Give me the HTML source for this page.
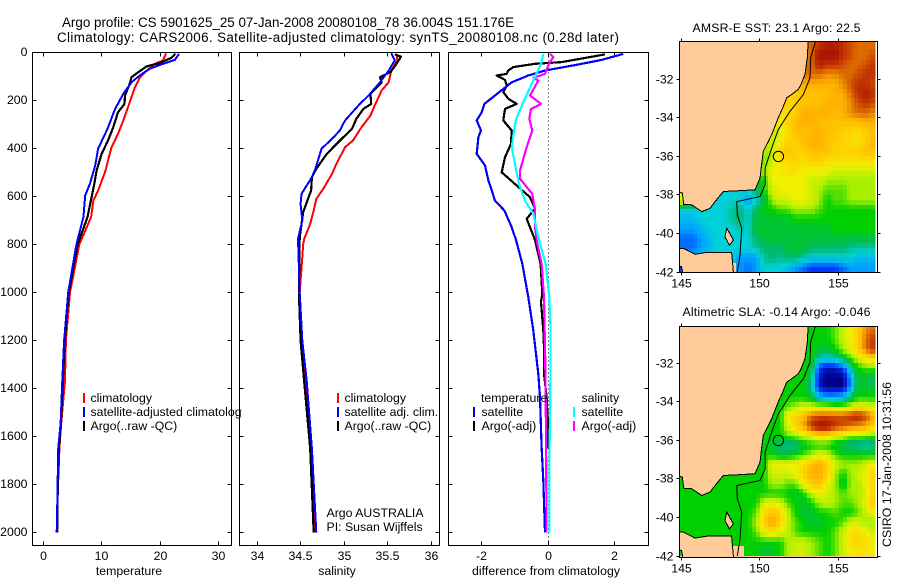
<!DOCTYPE html>
<html>
<head>
<meta charset="utf-8">
<title>Argo profile</title>
<style>
html,body{margin:0;padding:0;background:#fff;}
svg{display:block;}
text{font-family:"Liberation Sans",sans-serif;font-size:12.3px;fill:#000;}
</style>
</head>
<body>
<svg id="fig" width="900" height="580" viewBox="0 0 900 580" xmlns="http://www.w3.org/2000/svg">
<defs>
<clipPath id="legend-clip"><rect x="85" y="385" width="157" height="60"/></clipPath>
<clipPath id="map1-clip"><rect x="680" y="42" width="195.5" height="230.5"/></clipPath>
<clipPath id="map2-clip"><rect x="680" y="327" width="195.5" height="230"/></clipPath>
</defs>
<rect width="900" height="580" fill="#fff"/>

<text x="62" y="27" textLength="452" lengthAdjust="spacing" style="font-size:13.4px">Argo profile: CS 5901625_25 07-Jan-2008 20080108_78 36.004S 151.176E</text>
<text x="57" y="42" textLength="562" lengthAdjust="spacing" style="font-size:13.4px">Climatology: CARS2006. Satellite-adjusted climatology: synTS_20080108.nc (0.28d later)</text>

<g id="panels"></g>
<g id="maps"></g>

<text x="129" y="575" text-anchor="middle">temperature</text>
<text x="337" y="575" text-anchor="middle">salinity</text>
<text x="546" y="575" text-anchor="middle" textLength="148" lengthAdjust="spacing">difference from climatology</text>

<g>
<rect x="83" y="393" width="2" height="10" fill="#ff0000"/>
<rect x="83" y="407" width="2" height="10" fill="#0000ff"/>
<rect x="83" y="421" width="2" height="10" fill="#000"/>
<g clip-path="url(#legend-clip)">
<text x="90.5" y="402">climatology</text>
<text x="90.5" y="416">satellite-adjusted climatology</text>
<text x="90.5" y="430">Argo(..raw -QC)</text>
</g>
</g>

<g>
<rect x="337" y="393" width="2" height="10" fill="#ff0000"/>
<rect x="337" y="407" width="2" height="10" fill="#0000ff"/>
<rect x="337" y="421" width="2" height="10" fill="#000"/>
<text x="344.5" y="402">climatology</text>
<text x="344.5" y="416">satellite adj. clim.</text>
<text x="344.5" y="430">Argo(..raw -QC)</text>
<text x="326.5" y="517">Argo AUSTRALIA</text>
<text x="326.5" y="531">PI: Susan Wijffels</text>
</g>

<g>
<text x="481" y="402">temperature</text>
<rect x="473" y="407" width="2" height="10" fill="#0000ff"/>
<text x="481.5" y="416">satellite</text>
<rect x="473" y="421" width="2" height="10" fill="#000"/>
<text x="481.5" y="430">Argo(-adj)</text>
<text x="581.5" y="402">salinity</text>
<rect x="573" y="407" width="2" height="10" fill="#00ffff"/>
<text x="581.5" y="416">satellite</text>
<rect x="573" y="421" width="2" height="10" fill="#ff00ff"/>
<text x="581.5" y="430">Argo(-adj)</text>
</g>

<text x="692.5" y="32" textLength="168" lengthAdjust="spacing">AMSR-E SST: 23.1 Argo: 22.5</text>
<text x="682.5" y="316" textLength="188" lengthAdjust="spacing">Altimetric SLA: -0.14 Argo: -0.046</text>
<text transform="translate(891,547) rotate(-90)" textLength="165" lengthAdjust="spacing">CSIRO 17-Jan-2008 10:31:56</text>
</svg>

<script>
// ---- axis tick values ----
const depthTicks = [0,200,400,600,800,1000,1200,1400,1600,1800,2000];
const tempTicks = [0,10,20,30];
const salTicks = [34,34.5,35,35.5,36];
const salTickLabels = ['34','34.5','35','35.5','36'];
const diffTicks = [-2,0,2];

// ---- temperature panel ----
const tempClimDepth = [3,33,47,82,105,144,186,228,283,339,394,450,498,575,617,686,800,1000,1200,1367,1546,1650,1854,2000];
const tempClimValue = [21,20.5,19.1,17.4,16.5,15.7,15.1,14.5,13.7,12.8,11.7,11.1,10.6,9.4,8.6,8.2,6.2,4.6,3.9,3.75,3.1,2.8,2.5,2.5];
const tempArgoDepth = [6,22,44,58,82,103,131,179,214,249,311,367,422,492,547,603,686,800,1000,1200,1367,1546,1650,1854,2000];
const tempArgoValue = [22.6,21.9,19.9,17.7,16.25,15.1,14.8,14,13.9,12.8,12,11.1,10,9.15,8.75,8.3,7.6,5.9,4.4,3.7,3.4,3.05,2.7,2.5,2.4];
const tempSatDepth = [6,31,47,68,96,124,172,235,318,401,471,547,596,686,800,1000,1200,1367,1546,1650,1854,2000];
const tempSatValue = [23.2,22.5,20.5,18.2,16.5,15.1,13.7,12.3,11,9.4,8.9,8,7.2,6.9,5.7,4.3,3.6,3.3,3,2.6,2.45,2.33];

// ---- salinity panel ----
const salClimDepth = [6,33,75,124,158,221,263,311,367,394,464,506,568,610,658,714,778,800,1000,1200,1367,1650,2000];
const salClimValue = [35.6,35.61,35.54,35.51,35.43,35.35,35.3,35.2,35.1,35.01,34.91,34.86,34.76,34.68,34.65,34.61,34.54,34.53,34.49,34.51,34.55,34.62,34.67];
const salArgoDepth = [8,17,47,82,103,124,172,214,235,276,318,360,422,485,519,575,665,769,1000,1200,1367,1650,2000];
const salArgoValue = [35.58,35.65,35.6,35.53,35.41,35.43,35.3,35.31,35.22,35.14,35.09,34.97,34.8,34.68,34.63,34.62,34.53,34.49,34.48,34.5,34.54,34.61,34.65];
const salSatDepth = [3,33,75,124,179,214,283,325,360,401,485,519,589,631,700,776,1000,1200,1367,1650,2000];
const salSatValue = [35.54,35.58,35.51,35.41,35.28,35.18,35.01,34.95,34.86,34.74,34.67,34.63,34.51,34.5,34.52,34.47,34.49,34.52,34.57,34.63,34.68];

// ---- difference panel ----
const diffTempSatDepth = [6,31,50,75,96,124,179,214,249,283,325,353,422,471,533,617,658,728,781,880,1019,1158,1339,1436,1644,1783,2000];
const diffTempSatValue = [2.25,1.6,0.9,-0.1,-0.6,-1.1,-1.6,-1.92,-2,-2.15,-2.02,-2.1,-2.15,-1.9,-1.8,-1.6,-1.32,-1.1,-0.97,-0.78,-0.6,-0.45,-0.3,-0.25,-0.2,-0.15,-0.1];
const diffTempArgoDepth = [8,40,47,61,75,89,96,114,138,165,193,214,235,283,325,381,436,499,554,603,651,693,781,811,880,1005,1040,1158,1255,1339,1436,1575,1650];
const diffTempArgoValue = [1.7,0.4,-0.4,-1.05,-1.2,-1.25,-1.55,-1.3,-1.25,-1.35,-1.2,-0.95,-1.3,-1.35,-1.1,-1.12,-1.3,-1.4,-0.95,-0.55,-0.4,-0.65,-0.4,-0.35,-0.23,-0.18,-0.22,-0.15,-0.12,-0.13,-0.05,0,0];
const diffSalSatDepth = [6,47,117,207,283,346,394,464,547,617,672,769,880,1019,1158,1436,1644,2000];
const diffSalSatValue = [-0.15,-0.22,-0.45,-0.75,-0.98,-1.05,-1.1,-1,-0.88,-0.7,-0.45,-0.3,-0.08,0.03,0.07,0.06,0.04,0.04];
const diffSalArgoDepth = [6,19,47,89,105,117,179,214,235,276,325,394,492,526,589,658,728,781,880,1019,1297,1575,2000];
const diffSalArgoValue = [0.05,0.15,0.02,-0.1,-0.45,-0.3,-0.55,-0.22,-0.52,-0.57,-0.48,-0.65,-0.85,-0.85,-0.48,-0.4,-0.4,-0.35,-0.2,-0.13,-0.09,-0.07,-0.05];

// ---- map axes ----
const lonTicks = [145,150,155];
const latTicks = [-32,-34,-36,-38,-40,-42];
const floatLon = 151.176;
const floatLat = -36.004;

// ---- map cell values: colour index 0-12, -1 = land. rows from 30S in 0.5 deg, cols from 145E in 0.5 deg ----
const sstCells = [
[-1,-1,-1,-1,-1,-1,-1,-1,-1,-1,-1,-1,-1,-1,-1,10,10,11,11.5,11.5,11,10.5,10,10,10],
[-1,-1,-1,-1,-1,-1,-1,-1,-1,-1,-1,-1,-1,-1,-1,10,10,12,12,12,11,10.5,10,10,10.5],
[-1,-1,-1,-1,-1,-1,-1,-1,-1,-1,-1,-1,-1,-1,-1,10,10,11.5,11,11,10.5,10,10,10.5,11],
[-1,-1,-1,-1,-1,-1,-1,-1,-1,-1,-1,-1,-1,-1,10,10,10,10,9.5,9.5,10,10,10.5,11,11],
[-1,-1,-1,-1,-1,-1,-1,-1,-1,-1,-1,-1,-1,-1,9,9,9,9,9,9,9.5,10.5,11,11,10.5],
[-1,-1,-1,-1,-1,-1,-1,-1,-1,-1,-1,-1,-1,8,8,8.5,8.5,8.5,8.5,9,9,10,11,11.5,11],
[-1,-1,-1,-1,-1,-1,-1,-1,-1,-1,-1,-1,8,8,8,8.5,8.5,8.5,9,9,9,9.5,10.5,11,10.5],
[-1,-1,-1,-1,-1,-1,-1,-1,-1,-1,-1,7.5,7.5,7.5,8,9,9,9,9,8.5,9,9.5,10,10,9.5],
[-1,-1,-1,-1,-1,-1,-1,-1,-1,-1,-1,7,7,8,8.5,9,9,8.5,8.5,8.5,8.5,8.5,8.5,9,9],
[-1,-1,-1,-1,-1,-1,-1,-1,-1,-1,6.5,6.5,6.5,7.5,8.5,8.5,8.5,9,8.5,8.5,8,8,7.5,8,8.5],
[-1,-1,-1,-1,-1,-1,-1,-1,-1,-1,6.5,6.5,7,8,8,8.5,9,9,8.5,8,8,7.5,7.5,8,9],
[-1,-1,-1,-1,-1,-1,-1,-1,-1,6,6,6,8,8.5,8,8,8.5,8.5,8.5,8,8,8,8,8.5,8.5],
[-1,-1,-1,-1,-1,-1,-1,-1,-1,5.5,5.5,6.5,7.5,7.5,8,7.5,8,8,7.5,7.5,7.5,7.5,7.5,7.5,7.5],
[-1,-1,-1,-1,-1,-1,-1,-1,-1,6,6,7,7,7.5,7.5,7,7,7,7,6.5,6.5,6.5,6.5,6.5,6.5],
[-1,-1,-1,-1,-1,-1,-1,-1,-1,5,5,7,7,7,7,7,6.5,6.5,6,6,6,6,6,6,6],
[7,7,-1,-1,-1,3,3,3,3,4,5,6.5,7,7,7,7,6.5,6,5.5,5.5,5.5,6,6,6,6],
[7,7,3,3,3,3,3,3,2,3,4,6,6.5,6.5,7,7,6.5,6,5,5.5,5.5,6,6,6,6],
[3,3,3,3,3,3,3.5,4,3,4,5,5,5.5,5.5,6,6,6,5.5,5,5,5,5,5,5,5],
[2.5,2.5,3,3,3,3,3.5,4,3,4.5,4.5,4.5,4.5,4.5,5,5,5,5,5,5,5,5,5,5,5],
[2,2,2.5,3,3,3,3,3.5,3,4.5,4.5,4.5,4.5,4.5,4.5,4.5,4.5,4.5,4.5,5,5,5,5,5,5],
[1.5,1.5,2,2.5,3,3,3,3,3,4,4.5,4.5,4.5,4.5,4.5,4.5,4.5,4.5,4.5,4.5,4.5,4.5,4.5,4.5,4.5],
[1.5,1.5,2,2.5,3,3,3,3,3,3.5,4,4,4,4.5,4.5,4.5,4,4,4,4,4,3.5,3.5,3.5,3.5],
[1.5,2.5,3,3,3,3,3,2,2,2,3.5,4,3.5,4,4,3.5,3,3,3,3,3,3,2.5,2.5,2.5],
[1,1,-1,-1,-1,-1,-1,2,1.5,2,3,3,3,2.5,2,1.5,1,1,1,1,1.5,2,2,2,2]
];
const slaCells = [
[-1,-1,-1,-1,-1,-1,-1,-1,-1,-1,-1,-1,-1,-1,-1,5,5,5,5,5.5,6.5,7,8,9.5,10],
[-1,-1,-1,-1,-1,-1,-1,-1,-1,-1,-1,-1,-1,-1,-1,5,5,5,5,5.5,6.5,7,8,10,11],
[-1,-1,-1,-1,-1,-1,-1,-1,-1,-1,-1,-1,-1,-1,-1,5,5,4.5,4.5,5,6,7,8,10,11],
[-1,-1,-1,-1,-1,-1,-1,-1,-1,-1,-1,-1,-1,-1,5,5,5,3.5,3,3.5,4.5,5.5,6.5,7.5,8],
[-1,-1,-1,-1,-1,-1,-1,-1,-1,-1,-1,-1,-1,-1,5,5,4.5,1,0.3,0.5,1,3.5,5,5.5,5.5],
[-1,-1,-1,-1,-1,-1,-1,-1,-1,-1,-1,-1,-1,5,5,5,4,0.5,0,0,0,2,4.5,4.5,4],
[-1,-1,-1,-1,-1,-1,-1,-1,-1,-1,-1,-1,5,5,5,5,3.5,0.5,0,0,0,2,4.5,4.5,4.5],
[-1,-1,-1,-1,-1,-1,-1,-1,-1,-1,-1,5,5,5,5,5,4.5,2.5,2,2,2.5,4,5,5,5],
[-1,-1,-1,-1,-1,-1,-1,-1,-1,-1,-1,5,5,5.5,6,6.5,6.5,6.5,6.5,6,6,6.5,7,7,6.5],
[-1,-1,-1,-1,-1,-1,-1,-1,-1,-1,5,5,5,7,8,8.5,10,10.5,10.5,10.5,10.5,11,11.5,10.5,9],
[-1,-1,-1,-1,-1,-1,-1,-1,-1,-1,5,5,5,6.5,8,9,11,12,12,11,10.5,10,9.5,9,8],
[-1,-1,-1,-1,-1,-1,-1,-1,-1,5,5,5,5,5.5,6,6.5,7,8,8,7,6.5,6,6,6,5.5],
[-1,-1,-1,-1,-1,-1,-1,-1,-1,5,5,4.5,4,3.5,3.5,4.5,5,5,5,4.5,4,3.5,3.5,3,3.5],
[-1,-1,-1,-1,-1,-1,-1,-1,-1,5,5,5,4.5,4.5,5,5.5,6,7,6.5,5.5,5,5,5,5,5],
[-1,-1,-1,-1,-1,-1,-1,-1,-1,5,5,7,7,7,7,7.5,8.5,9,8,6.5,6,6,6,6.5,7],
[5,5,-1,-1,-1,5,5,5,5,5,5,6.5,6.5,6.5,7,8,9,9,8,6,5,6,6.5,7,8],
[5,5,5,5,5,5,5,5,5,5,5,6,6,5.5,5.5,7,8,8.5,7,6,4.5,6,6,7,8],
[5,5,5,5,5,5,5,5,5,5,5,5,5,5,4.5,5,6.5,7,6.5,6,5.5,6,6,6.5,8],
[5,5,5,5,5,5,5,5,5,5,6.5,7,6.5,5.5,5,4.5,5,6,6.5,6,5.5,5.5,6,7,8.5],
[5,5,5,5,5,5,5,5,5,5.5,7.5,8.5,8,6.5,5,4.5,4.5,5,5,5.5,5,5,5.5,6.5,7],
[5,5,5,5,5,5,5,5,5,6,8,9.5,8,6.5,5.5,5,4.5,4.5,5,5,5.5,6.5,6.5,6,6],
[5,5,5,5,5,5,5,5,5,5.5,7,7.5,7,6.5,5.5,5,5,5,5,5.5,6.5,7.5,7.5,7,6.5],
[5,5,5,5,5,5,5,5,5,5,5,5,5,6,6.5,6.5,6,5.5,5,5.5,6.5,7.5,8,7.5,7],
[5,5,-1,-1,-1,-1,-1,-1,5,5,4.5,4.5,5,6,6.5,6.5,6,5.5,5,5.5,6.5,7,7.5,7.5,7]
];

// ---- coast and bathymetry in lon/lat ----
const mainlandLon = [144.5,153.1,153.01,152.86,152.6,152.44,152.1,151.7,151.45,151.17,150.75,150.5,150.22,150.1,150.01,149.69,148.7,147.68,147.2,146.84,146.31,145.68,145.15,145.15,145.08,144.5];
const mainlandLat = [-29.5,-29.5,-30.9,-31.76,-32.3,-32.54,-32.75,-32.98,-33.5,-34,-34.88,-35.3,-35.74,-36.5,-37.13,-37.73,-37.78,-37.82,-38.3,-38.69,-38.86,-38.51,-38.48,-38.34,-37.9,-37.82];
const tasmaniaLon = [144.5,145.15,145.89,146.63,148.21,148.32,148.32,145.32,145.04,144.5];
const tasmaniaLat = [-40.76,-40.76,-41.07,-40.97,-40.97,-42,-43,-43,-41.71,-41.66];
const flindersLon = [147.9,148.32,148.07,147.79];
const flindersLat = [-39.72,-40.33,-40.6,-40.16];
const isobathLon = [153.54,153.22,153.18,152.76,151.91,151.17,150.75,150.33,150.33,150.01,148.53,148.57,148.85,148.74,148.57];
const isobathLat = [-30.03,-30.9,-31.94,-32.8,-33.67,-34.62,-35.57,-36.61,-37.47,-38.08,-38.34,-39.03,-39.72,-41.11,-42];

// ---- colour scale ----
const colourStops = ['#000088','#0038ff','#00a0ff','#00d0d8','#00b868','#00d000','#a8f000','#f0f000','#ffd000','#ffb000','#dc6c00','#c03000','#a81000'];

const NS = 'http://www.w3.org/2000/svg';
function make(parent, tag, attrs, text) {
  const n = document.createElementNS(NS, tag);
  for (const k in attrs) n.setAttribute(k, attrs[k]);
  if (text !== undefined) n.textContent = text;
  parent.appendChild(n);
  return n;
}
function hex(c) { return [1,3,5].map(i => parseInt(c.substr(i,2),16)); }
function colourFor(v) {
  const lo = Math.max(0, Math.min(colourStops.length-1, Math.floor(v)));
  const hi = Math.min(colourStops.length-1, lo+1);
  const f = v-lo, a = hex(colourStops[lo]), b = hex(colourStops[hi]);
  return 'rgb(' + a.map((x,i)=>Math.round(x+(b[i]-x)*f)).join(',') + ')';
}

const depthY = d => 52.5 + 0.24*d;
const tempX = v => 43 + 5.86*v;
const salX = v => 257 + 87.2*(v-34);
const diffX = v => 548.3 + 33.3*v;

function panel(name, left, right, xFn, ticks, labels, showDepth) {
  const g = make(document.getElementById('panels'), 'g', {});
  
  
  const top = 52.5, bottom = 545.5;
  depthTicks.forEach(d => {
    const y = Math.round(depthY(d)-0.5)+0.5;
    if (d > 0) {
      const t1 = make(g, 'path', {d:`M${left} ${y}h4M${right} ${y}h-4`, stroke:'#000', 'stroke-width':1, fill:'none'});
      
      
    }
    if (showDepth) {
      const lab = make(g, 'text', {x:27.5, y:y+3.5, 'text-anchor':'end'}, String(d));
      
      
    }
  });
  ticks.forEach((v,i) => {
    const x = Math.round(xFn(v)-0.5)+0.5;
    const t2 = make(g, 'path', {d:`M${x} ${top}v4M${x} ${bottom}v-4`, stroke:'#000', 'stroke-width':1, fill:'none'});
    
    
    const lab = make(g, 'text', {x:x, y:560, 'text-anchor':'middle'}, labels[i]);
    
    
  });
  return {g, top, bottom, left, right};
}
function finishPanel(p, name) {
  const box = make(p.g, 'rect', {x:p.left, y:p.top, width:p.right-p.left, height:p.bottom-p.top, fill:'none', stroke:'#000', 'stroke-width':1});
  
  
}
function series(p, name, depths, values, xFn, colour, width) {
  const pts = depths.map((d,i) => xFn(values[i]).toFixed(1) + ',' + depthY(d).toFixed(1)).join(' ');
  const line = make(p.g, 'polyline', {points:pts, fill:'none', stroke:colour, 'stroke-width':width||2, 'shape-rendering':'crispEdges', 'stroke-linejoin':'round'});
  
  
}

const p1 = panel('temperature', 32.5, 231.5, tempX, tempTicks, tempTicks.map(String), true);
series(p1, 'temperature-climatology-line', tempClimDepth, tempClimValue, tempX, '#ff0000');
series(p1, 'temperature-argo-line', tempArgoDepth, tempArgoValue, tempX, '#000000', 2.2);
series(p1, 'temperature-satellite-line', tempSatDepth, tempSatValue, tempX, '#0000ff');
finishPanel(p1, 'temperature');

const p2 = panel('salinity', 239.5, 439.5, salX, salTicks, salTickLabels, false);
series(p2, 'salinity-climatology-line', salClimDepth, salClimValue, salX, '#ff0000');
series(p2, 'salinity-argo-line', salArgoDepth, salArgoValue, salX, '#000000', 2.2);
series(p2, 'salinity-satellite-line', salSatDepth, salSatValue, salX, '#0000ff');
finishPanel(p2, 'salinity');

const p3 = panel('difference', 448.5, 648.5, diffX, diffTicks, diffTicks.map(String), false);
const zeroX = Math.round(diffX(0)-0.5)+0.5;
const zeroLine = make(p3.g, 'line', {x1:zeroX, x2:zeroX, y1:depthY(0), y2:p3.bottom, stroke:'#000', 'stroke-width':1, 'stroke-dasharray':'1 3'});


series(p3, 'difference-temp-argo-line', diffTempArgoDepth, diffTempArgoValue, diffX, '#000000', 2.2);
series(p3, 'difference-temp-satellite-line', diffTempSatDepth, diffTempSatValue, diffX, '#0000ff', 2.2);
series(p3, 'difference-sal-argo-line', diffSalArgoDepth, diffSalArgoValue, diffX, '#ff00ff', 2.2);
series(p3, 'difference-sal-satellite-line', diffSalSatDepth, diffSalSatValue, diffX, '#00ffff', 2.2);
finishPanel(p3, 'difference');

// ---- maps ----
const lonX = lon => 681 + 15.77*(lon-145);
// value at fractional cell position, treating land neighbours as the cell's own value
function sampleCell(cells, r, c, own) {
  const rr = Math.max(0, Math.min(cells.length-1, r));
  const cc = Math.max(0, Math.min(cells[0].length-1, c));
  const v = cells[rr][cc];
  return v < 0 ? own : v;
}
function map(name, cells, clipId, boxTop, boxBottom, lat32Y, latScale) {
  const left = 679.5, right = 877.5;
  const latY = lat => lat32Y + (-32-lat)*latScale;
  const g = make(document.getElementById('maps'), 'g', {});
  
  
  const clip = make(g, 'g', {'clip-path':'url(#'+clipId+')'});
  
  
  const bg = make(clip, 'rect', {x:left, y:boxTop, width:right-left, height:boxBottom-boxTop, fill:'#ffcc99'});
  
  
  const cg = make(clip, 'g', {'shape-rendering':'crispEdges'});
  
  
  // each reading is painted as four quarter-degree blocks, shaded toward its neighbours
  cells.forEach((row,r) => row.forEach((v,c) => {
    if (v < 0) return;
    [[-1,-1],[1,-1],[-1,1],[1,1]].forEach(([sx,sy]) => {
      const nx = sampleCell(cells, r, c+sx, v);
      const ny = sampleCell(cells, r+sy, c, v);
      const nd = sampleCell(cells, r+sy, c+sx, v);
      const shade = 0.5625*v + 0.1875*nx + 0.1875*ny + 0.0625*nd;
      const lonA = 145 + 0.5*c + (sx < 0 ? 0 : 0.25);
      const latA = -30 - 0.5*r - (sy < 0 ? 0 : 0.25);
      let x0 = Math.round(lonX(lonA));
      if (c === 0 && sx < 0) x0 = 679;
      const x1 = Math.round(lonX(lonA+0.25));
      const y0 = Math.round(latY(latA));
      const y1 = Math.round(latY(latA-0.25));
      const cell = make(cg, 'rect', {x:x0, y:y0, width:x1-x0, height:y1-y0, fill:colourFor(shade)});
      
      
    });
  }));
  function land(lons, lats, landName) {
    const pts = lons.map((l,i) => lonX(l).toFixed(1)+','+latY(lats[i]).toFixed(1)).join(' ');
    const poly = make(clip, 'polygon', {points:pts, fill:'#ffcc99', stroke:'#000', 'stroke-width':1, 'shape-rendering':'crispEdges'});
    
    
  }
  land(mainlandLon, mainlandLat, 'mainland-australia');
  land(tasmaniaLon, tasmaniaLat, 'tasmania');
  land(flindersLon, flindersLat, 'flinders-island');
  const iso = make(clip, 'polyline', {points:isobathLon.map((l,i)=>lonX(l).toFixed(1)+','+latY(isobathLat[i]).toFixed(1)).join(' '), fill:'none', stroke:'#000', 'stroke-width':1});
  
  
  const circ = make(clip, 'circle', {cx:lonX(floatLon).toFixed(1), cy:latY(floatLat).toFixed(1), r:5.2, fill:'none', stroke:'#000', 'stroke-width':1});
  
  
  const box = make(g, 'rect', {x:left, y:boxTop, width:right-left, height:boxBottom-boxTop, fill:'none', stroke:'#000', 'stroke-width':1});
  
  
  lonTicks.forEach(l => {
    const x = Math.round(lonX(l)-0.5)+0.5;
    const t = make(g, 'path', {d:`M${x} ${boxTop}v-3M${x} ${boxBottom}v3`, stroke:'#000', 'stroke-width':1});
    
    
    const lab = make(g, 'text', {x:x, y:boxBottom+15, 'text-anchor':'middle'}, String(l));
    
    
  });
  latTicks.forEach(l => {
    const y = Math.round(latY(l)-0.5)+0.5;
    const t = make(g, 'path', {d:`M${left} ${y}h-3M${right} ${y}h3`, stroke:'#000', 'stroke-width':1});
    
    
    const lab = make(g, 'text', {x:673.5, y:y+4, 'text-anchor':'end'}, String(l));
    
    
  });
}
map('sst', sstCells, 'map1-clip', 41.5, 272.5, 79, 19.33);
map('sla', slaCells, 'map2-clip', 326.5, 557.5, 363.3, 19.27);
</script>
</body>
</html>
